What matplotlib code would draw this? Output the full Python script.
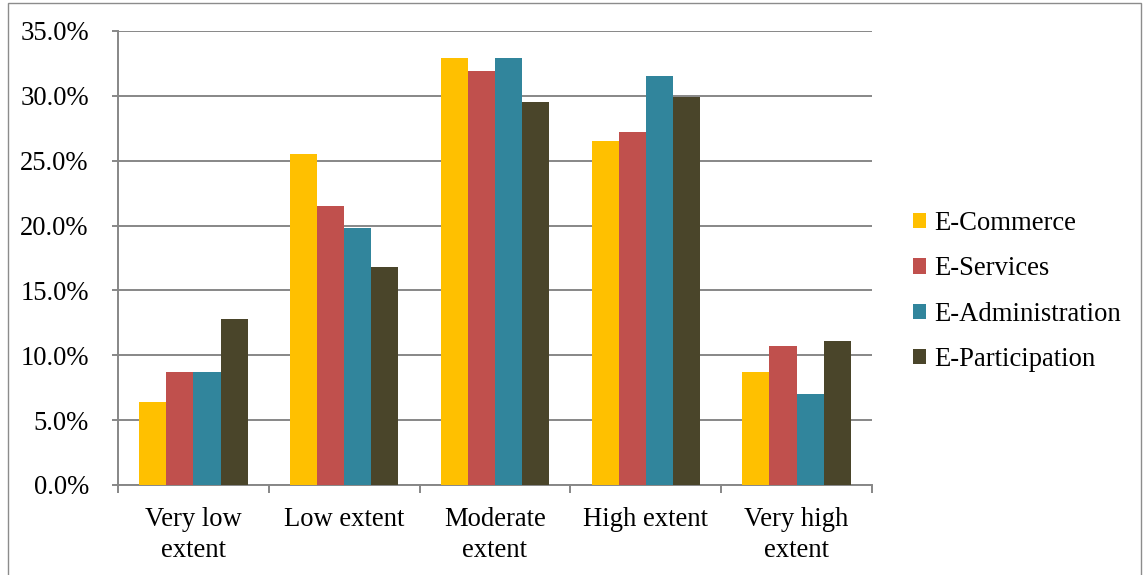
import matplotlib
matplotlib.use("Agg")
import matplotlib.pyplot as plt
from matplotlib.patches import Rectangle, Patch
from matplotlib.ticker import FuncFormatter, FixedLocator
import numpy as np

categories = ["Very low\nextent", "Low extent", "Moderate\nextent", "High extent", "Very high\nextent"]
series_names = ["E-Commerce", "E-Services", "E-Administration", "E-Participation"]
e_commerce = [6.4, 25.5, 32.9, 26.5, 8.7]
e_services = [8.7, 21.5, 31.9, 27.2, 10.7]
e_administration = [8.7, 19.8, 32.9, 31.5, 7.0]
e_participation = [12.8, 16.8, 29.5, 29.9, 11.1]
colors = ["#FFC000", "#C0504D", "#31859C", "#4A452A"]

plt.rcParams["font.family"] = ["Liberation Serif", "DejaVu Serif"]
FS = 19.2

W, H = 1144, 575
fig = plt.figure(figsize=(W / 100, H / 100), dpi=100)
fig.patch.set_facecolor("white")

# outer frame
fig.add_artist(Rectangle((8 / W, -0.05), (1141 - 8) / W, 1.05 - 3 / H,
                         transform=fig.transFigure, fill=False,
                         edgecolor="#8c8c8c", lw=1.0))

ax = fig.add_axes([118 / W, (H - 485) / H, (872 - 118) / W, (485 - 31) / H])

x = np.arange(len(categories))
bw = 0.18
all_series = [e_commerce, e_services, e_administration, e_participation]
for i, (vals, name, c) in enumerate(zip(all_series, series_names, colors)):
    ax.bar(x + (i - 1.5) * bw, np.array(vals) / 100, width=bw, color=c,
           label=name, zorder=3, linewidth=0)

ax.set_xlim(-0.5, len(categories) - 0.5)
ax.set_ylim(0, 0.35)
ax.set_yticks(np.arange(0, 0.351, 0.05))
ax.yaxis.set_major_formatter(FuncFormatter(lambda v, p: f"{v * 100:.1f}%"))

grid_c = "#878787"
ax.grid(axis="y", color=grid_c, lw=1.4, zorder=0)
ax.set_axisbelow(True)
for s in ["top", "right"]:
    ax.spines[s].set_visible(False)
for s in ["left", "bottom"]:
    ax.spines[s].set_color(grid_c)
    ax.spines[s].set_linewidth(1.4)

# category boundaries carry the tick marks, labels sit at group centres
ax.xaxis.set_major_locator(FixedLocator(np.arange(-0.5, len(categories), 1.0)))
ax.xaxis.set_major_formatter(FuncFormatter(lambda v, p: ""))
ax.xaxis.set_minor_locator(FixedLocator(x))
ax.set_xticklabels(categories, minor=True)
ax.tick_params(axis="x", which="major", length=6, width=1.4, color=grid_c)
ax.tick_params(axis="x", which="minor", length=0, pad=16, labelsize=FS)
ax.tick_params(axis="y", length=4, width=1.4, color=grid_c, pad=17, labelsize=FS)
for t in ax.xaxis.get_minorticklabels():
    t.set_linespacing(1.33)

handles = [Patch(facecolor=c, edgecolor="none") for c in colors]
fig.legend(handles, series_names, loc="center left",
           bbox_to_anchor=(913 / W, 1 - 291.5 / H), frameon=False, fontsize=FS,
           handlelength=0.5, handleheight=0.5, handletextpad=0.3,
           labelspacing=0.76, borderpad=0, borderaxespad=0)

fig.savefig("out.png", dpi=100, facecolor="white")
